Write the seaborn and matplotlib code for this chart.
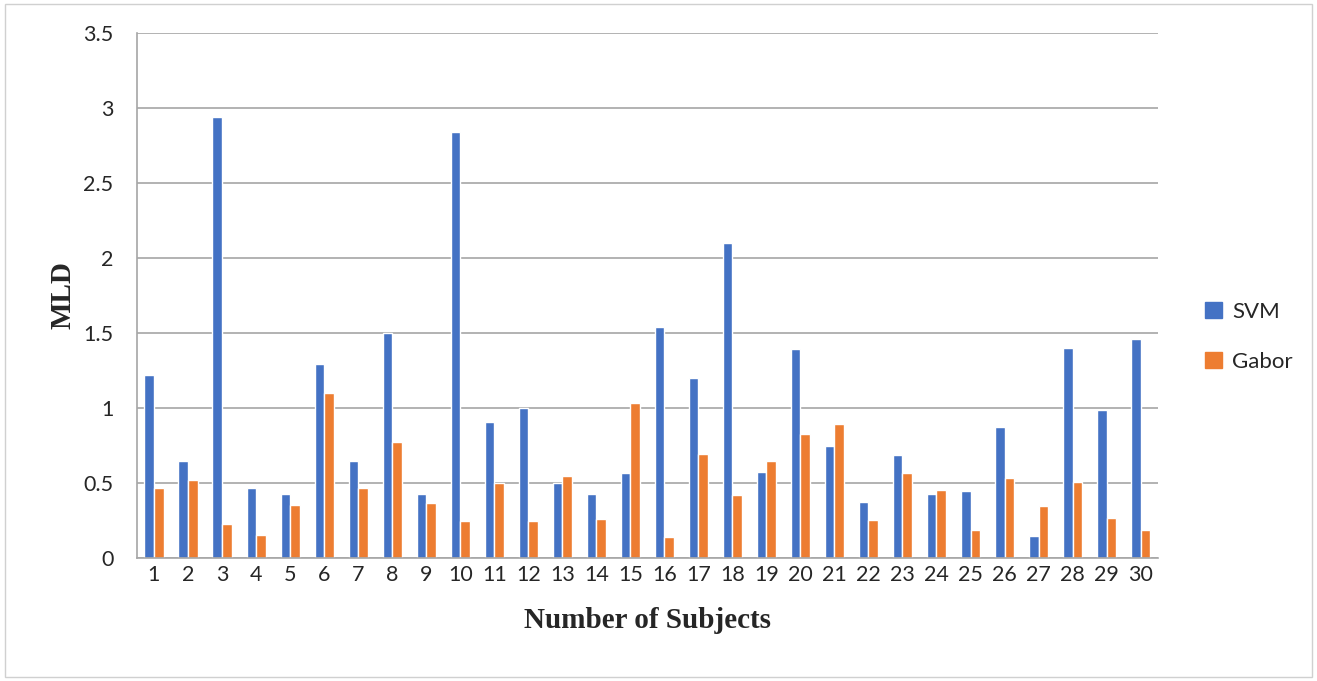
import pandas as pd
import seaborn as sns
import matplotlib.pyplot as plt
from matplotlib.patches import Rectangle

# 데이터
subjects = [str(i) for i in range(1, 31)]
svm = [1.22, 0.645, 2.94, 0.47, 0.43, 1.29, 0.645, 1.50, 0.43, 2.84,
       0.905, 1.00, 0.50, 0.43, 0.57, 1.54, 1.20, 2.10, 0.575, 1.39,
       0.745, 0.375, 0.69, 0.43, 0.45, 0.875, 0.15, 1.40, 0.985, 1.46]
gabor = [0.47, 0.52, 0.225, 0.155, 0.355, 1.10, 0.465, 0.775, 0.365, 0.25,
         0.50, 0.25, 0.55, 0.26, 1.03, 0.14, 0.695, 0.42, 0.645, 0.825,
         0.89, 0.255, 0.57, 0.455, 0.19, 0.535, 0.345, 0.505, 0.265, 0.19]
series = ['SVM', 'Gabor']
colors = ['#4472C4', '#ED7D31']

df = pd.DataFrame({
    'Subject': subjects * 2,
    'MLD': svm + gabor,
    'Method': ['SVM'] * len(svm) + ['Gabor'] * len(gabor),
})

sns.set_style('white')
plt.rcParams['font.family'] = ['Lato', 'DejaVu Sans']

fig = plt.figure(figsize=(13.17, 6.81), dpi=100)
ax = fig.add_axes([0.104, 0.1806, 0.775, 0.771])

sns.barplot(data=df, x='Subject', y='MLD', hue='Method', hue_order=series,
            palette=colors, saturation=1, width=0.56, ax=ax, legend=False)

# 축 설정
ax.set_ylim(0, 3.5)
ax.set_xlim(-0.5, 29.5)
ax.set_yticks([0, 0.5, 1, 1.5, 2, 2.5, 3, 3.5])
ax.set_yticklabels(['0', '0.5', '1', '1.5', '2', '2.5', '3', '3.5'])
ax.yaxis.grid(True, color='#a6a6a6', linewidth=1.2)
ax.set_axisbelow(True)
for s in ['top', 'right']:
    ax.spines[s].set_visible(False)
for s in ['left', 'bottom']:
    ax.spines[s].set_color('#a6a6a6')
    ax.spines[s].set_linewidth(1.2)

ax.set_xticks([i - 0.5 for i in range(31)], minor=True)
ax.tick_params(axis='x', which='minor', length=6, color='#a6a6a6', width=1.2)
ax.tick_params(axis='x', which='major', length=0, pad=5, labelsize=15.5)
ax.tick_params(axis='y', length=5, color='#a6a6a6', width=1.2, labelsize=15.5, pad=12)

ax.set_xlabel('Number of Subjects', fontfamily='Liberation Serif',
              fontweight='bold', fontsize=21, labelpad=16)
ax.set_ylabel('MLD', fontfamily='Liberation Serif', fontweight='bold',
              fontsize=21, labelpad=5)

# 범례
handles = [Rectangle((0, 0), 1, 1, color=c) for c in colors]
fig.legend(handles, series, loc='center left', bbox_to_anchor=(0.9, 0.505),
           frameon=False, fontsize=16, handlelength=0.75, handleheight=0.75,
           handletextpad=0.45, labelspacing=1.35)

# 테두리
fig.patches.append(Rectangle((0.004, 0.006), 0.992, 0.988, transform=fig.transFigure,
                             fill=False, edgecolor='#d0d0d0', linewidth=1))

plt.savefig('out.png', dpi=100)
